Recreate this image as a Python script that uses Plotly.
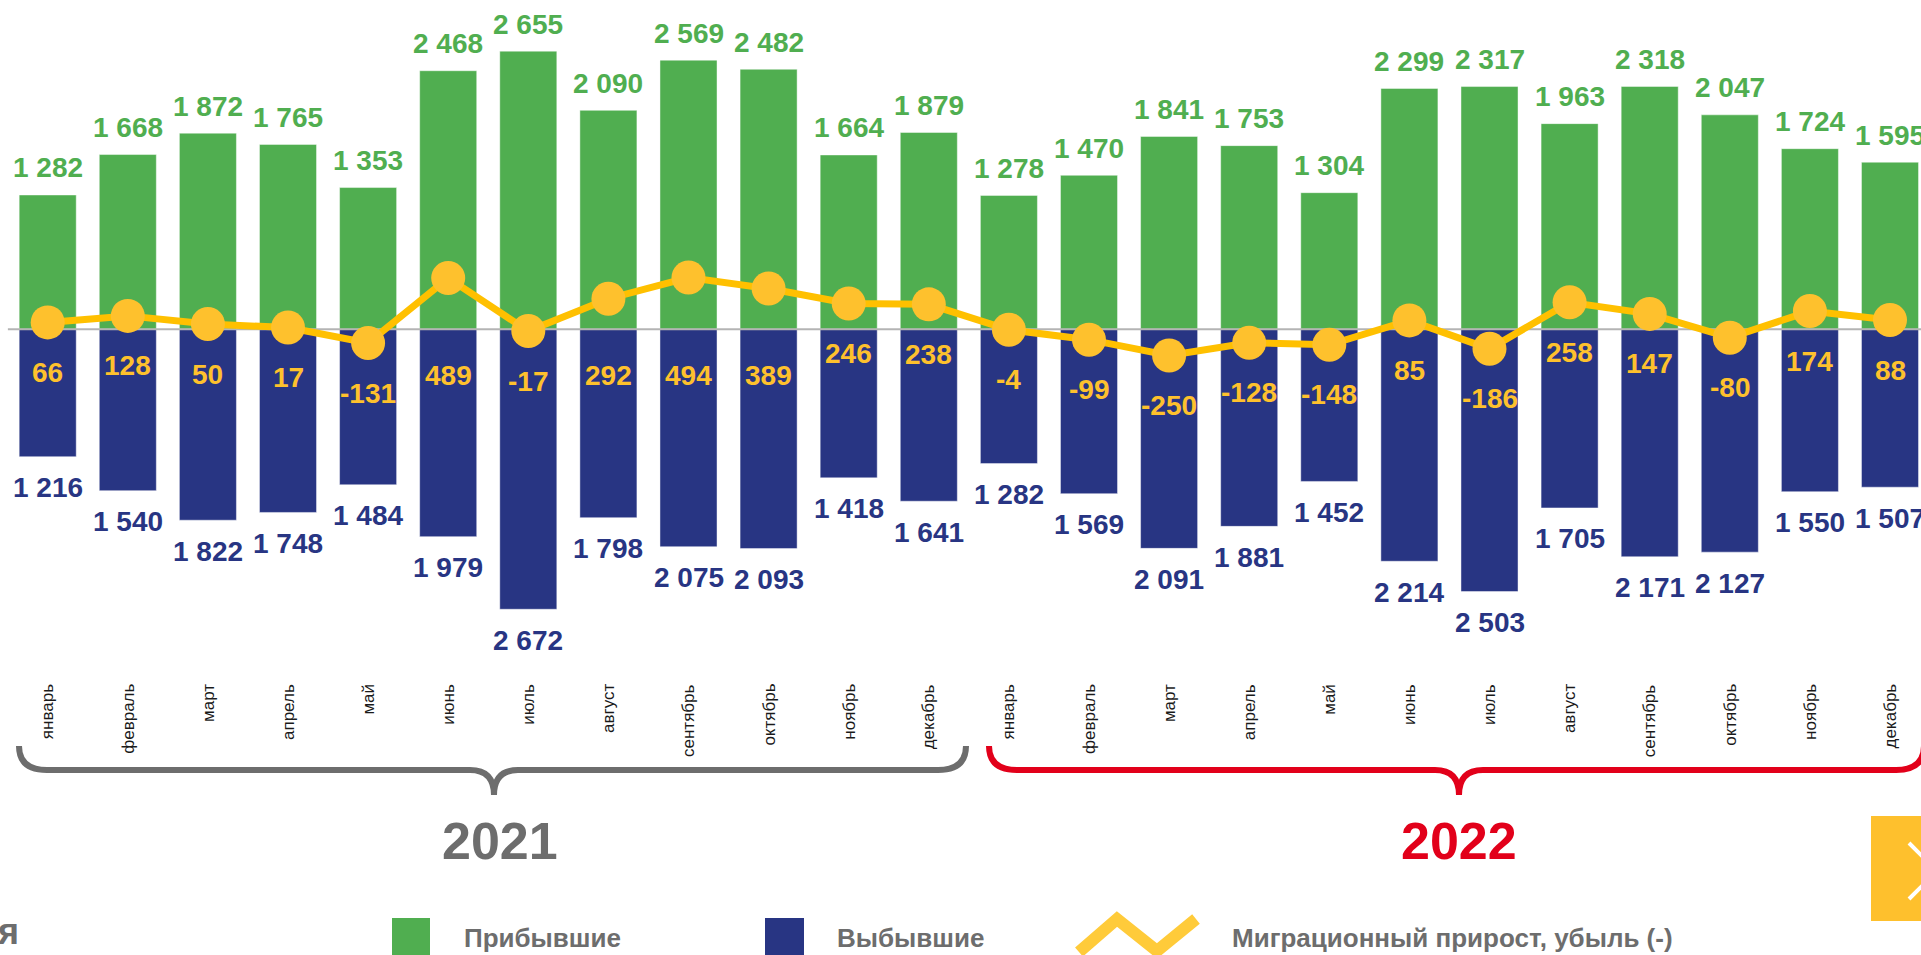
import plotly.graph_objects as go

# ---------------- data ----------------
months = ["январь", "февраль", "март", "апрель", "май", "июнь",
          "июль", "август", "сентябрь", "октябрь", "ноябрь", "декабрь"]
years = ["2021", "2022"]
arrived_2021 = [1282, 1668, 1872, 1765, 1353, 2468, 2655, 2090, 2569, 2482, 1664, 1879]
arrived_2022 = [1278, 1470, 1841, 1753, 1304, 2299, 2317, 1963, 2318, 2047, 1724, 1595]
departed_2021 = [1216, 1540, 1822, 1748, 1484, 1979, 2672, 1798, 2075, 2093, 1418, 1641]
departed_2022 = [1282, 1569, 2091, 1881, 1452, 2214, 2503, 1705, 2171, 2127, 1550, 1507]
net_2021 = [66, 128, 50, 17, -131, 489, -17, 292, 494, 389, 246, 238]
net_2022 = [-4, -99, -250, -128, -148, 85, -186, 258, 147, -80, 174, 88]
legend_labels = ["Прибывшие", "Выбывшие", "Миграционный прирост, убыль (-)"]

# ---------------- styling ----------------
W, H = 1921, 955
GREEN = "#50AE50"
BLUE = "#283583"
YELLOW_LINE = "#FFC000"
YELLOW_MARK = "#FEC12D"
GRAY = "#6d6d6d"
RED = "#E2001A"
FONT = "Arial, Liberation Sans, sans-serif"

arrived = arrived_2021 + arrived_2022
departed = departed_2021 + departed_2022
net = net_2021 + net_2022
month_labels = months + months
x = list(range(len(arrived)))

PX_PER_UNIT = 0.10477
ZERO_PX = 329.3
PLOT_BOTTOM_PX = 680
Y_TOP = ZERO_PX / PX_PER_UNIT
Y_BOTTOM = -(PLOT_BOTTOM_PX - ZERO_PX) / PX_PER_UNIT
BAR_STEP = 80.1
FIRST_CENTER = 47.7
X_LEFT_PX = FIRST_CENTER - BAR_STEP / 2
X_RIGHT = -0.5 + (W - X_LEFT_PX) / BAR_STEP


def px(xp):
    return xp / W


def py(yp):
    return 1 - yp / H


def fmt(v):
    return f"{v:,}".replace(",", " ")


fig = go.Figure()
fig.add_trace(go.Bar(x=x, y=arrived, marker=dict(color=GREEN, line=dict(color="rgba(255,255,255,0.45)", width=1)),
                     name=legend_labels[0], hoverinfo="skip"))
fig.add_trace(go.Bar(x=x, y=[-d for d in departed], marker=dict(color=BLUE, line=dict(color="rgba(255,255,255,0.45)", width=1)),
                     name=legend_labels[1], hoverinfo="skip"))
# zero reference line
fig.add_trace(go.Scatter(x=[-0.5, X_RIGHT], y=[0, 0], mode="lines",
                         line=dict(color="#b4b4b4", width=2), hoverinfo="skip"))
fig.add_trace(go.Scatter(x=x, y=net, mode="lines+markers", name=legend_labels[2],
                         line=dict(color=YELLOW_LINE, width=7),
                         marker=dict(color=YELLOW_MARK, size=34), hoverinfo="skip"))

ann = []
for i in x:
    # arrivals labels
    ann.append(dict(x=i, y=arrived[i], xref="x", yref="y", text=f"<b>{fmt(arrived[i])}</b>",
                    showarrow=False, yanchor="middle", yshift=27,
                    font=dict(family=FONT, size=28, color=GREEN)))
    # departures labels
    ann.append(dict(x=i, y=-departed[i], xref="x", yref="y", text=f"<b>{fmt(departed[i])}</b>",
                    showarrow=False, yanchor="middle", yshift=-31,
                    font=dict(family=FONT, size=28, color=BLUE)))
    # net labels
    v = net[i]
    if v > 270:
        yy, sh = 0, -46
    else:
        yy, sh = v, -50
    ann.append(dict(x=i, y=yy, xref="x", yref="y", text=f"<b>{v}</b>",
                    showarrow=False, yanchor="middle", yshift=sh,
                    font=dict(family=FONT, size=28, color=YELLOW_MARK)))
    # month labels
    ann.append(dict(x=i, y=py(682), xref="x", yref="paper", text=month_labels[i],
                    showarrow=False, yanchor="top", xanchor="center", textangle=-90,
                    font=dict(family=FONT, size=17, color="#1a1a1a")))

# year labels
ann.append(dict(x=px(500), y=py(841), xref="paper", yref="paper", text=f"<b>{years[0]}</b>",
                showarrow=False, xanchor="center", yanchor="middle",
                font=dict(family=FONT, size=52, color=GRAY)))
ann.append(dict(x=px(1459), y=py(841), xref="paper", yref="paper", text=f"<b>{years[1]}</b>",
                showarrow=False, xanchor="center", yanchor="middle",
                font=dict(family=FONT, size=52, color=RED)))

# legend texts
for lbl, left in zip(legend_labels, [462, 835, 1230]):
    ann.append(dict(x=px(left), y=py(938), xref="paper", yref="paper", text=f"<b>{lbl}</b>",
                    showarrow=False, xanchor="left", yanchor="middle",
                    font=dict(family=FONT, size=26, color=GRAY)))
# cut-off text at left edge
ann.append(dict(x=px(21), y=py(931), xref="paper", yref="paper", text="<b>я</b>",
                showarrow=False, xanchor="right", yanchor="middle",
                font=dict(family=FONT, size=36, color=GRAY)))


def brace_path(xl, xr, tip, y_end, y_line, y_tip, r=28, rc=24):
    pts = [
        f"M {px(xl)},{py(y_end)}",
        f"Q {px(xl)},{py(y_line)} {px(xl + r)},{py(y_line)}",
        f"L {px(tip - rc)},{py(y_line)}",
        f"Q {px(tip)},{py(y_line)} {px(tip)},{py(y_tip)}",
        f"Q {px(tip)},{py(y_line)} {px(tip + rc)},{py(y_line)}",
        f"L {px(xr - r)},{py(y_line)}",
        f"Q {px(xr)},{py(y_line)} {px(xr)},{py(y_end)}",
    ]
    return " ".join(pts)


shapes = [
    dict(type="path", xref="paper", yref="paper",
         path=brace_path(19, 966, 494, 746, 770, 795),
         line=dict(color=GRAY, width=6)),
    dict(type="path", xref="paper", yref="paper",
         path=brace_path(989, 1924, 1459, 746, 770, 795),
         line=dict(color=RED, width=6)),
    # legend swatches
    dict(type="rect", xref="paper", yref="paper", x0=px(392), x1=px(430), y0=py(960), y1=py(918),
         fillcolor=GREEN, line=dict(width=0)),
    dict(type="rect", xref="paper", yref="paper", x0=px(765), x1=px(804), y0=py(960), y1=py(918),
         fillcolor=BLUE, line=dict(width=0)),
    dict(type="path", xref="paper", yref="paper",
         path=f"M {px(1079)},{py(952)} L {px(1117)},{py(919)} L {px(1157)},{py(951)} L {px(1196)},{py(919)}",
         line=dict(color="#FFCB3A", width=12)),
    # yellow nav box
    dict(type="rect", xref="paper", yref="paper", x0=px(1871), x1=px(1925), y0=py(921), y1=py(816),
         fillcolor="#FEC02D", line=dict(width=0)),
    dict(type="path", xref="paper", yref="paper",
         path=f"M {px(1909)},{py(843)} L {px(1937)},{py(871)} L {px(1909)},{py(899)}",
         line=dict(color="white", width=4)),
]

fig.update_layout(
    width=W, height=H,
    margin=dict(l=0, r=0, t=0, b=0),
    paper_bgcolor="white", plot_bgcolor="white",
    barmode="relative", bargap=0.288,
    showlegend=False,
    xaxis=dict(domain=[X_LEFT_PX / W, 1], range=[-0.5, X_RIGHT], visible=False, fixedrange=True),
    yaxis=dict(domain=[1 - PLOT_BOTTOM_PX / H, 1], range=[Y_BOTTOM, Y_TOP], visible=False, fixedrange=True),
    annotations=ann,
    shapes=shapes,
    font=dict(family=FONT),
)

fig.write_html("out.html", config=dict(displayModeBar=False),
               post_script="document.body.style.margin='0';document.body.style.overflow='hidden';")
